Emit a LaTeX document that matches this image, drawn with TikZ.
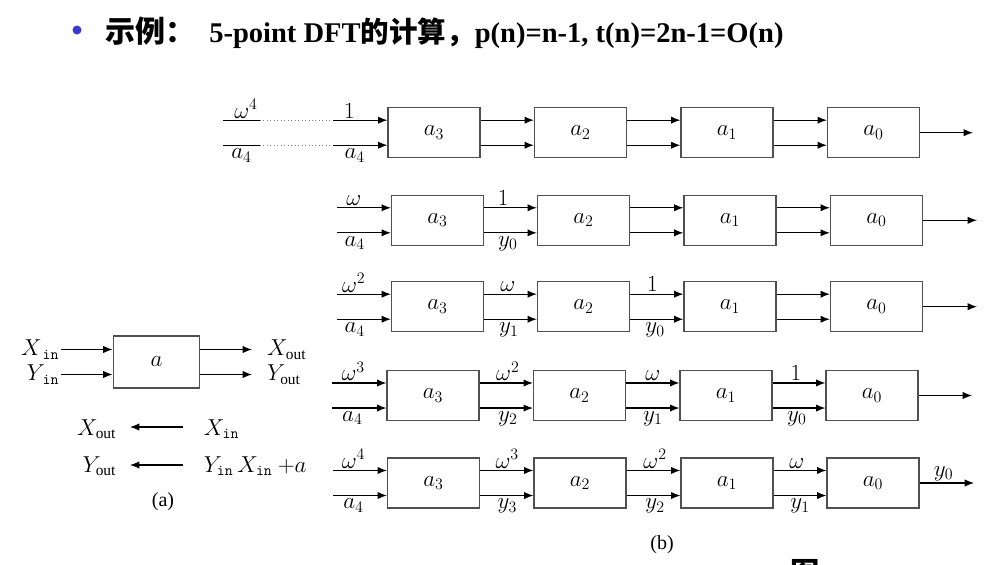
\documentclass[tikz,border=0pt]{standalone}
\usepackage{fontspec}
\setmainfont{Liberation Serif}
\newfontfamily\cjk{Noto Sans CJK SC}
\usetikzlibrary{arrows.meta}
\definecolor{bulletblue}{HTML}{3A3ACC}
\definecolor{boxgray}{HTML}{505050}
\begin{document}
\begin{tikzpicture}[x=0.75pt,y=-0.75pt,
  blk/.style={draw=boxgray, line width=0.9pt, minimum width=69pt, minimum height=37.5pt, inner sep=0pt, font=\fontsize{16.5}{18}\selectfont},
  ablk/.style={draw=boxgray, line width=0.9pt, minimum width=65pt, minimum height=39pt, inner sep=0pt, font=\fontsize{16.5}{18}\selectfont},
  arr/.style={-{Latex[length=7pt,width=5.5pt]}, line width=0.9pt},
  ln/.style={line width=0.9pt},
  dotln/.style={line width=0.6pt, gray, dotted},
  lab/.style={font=\fontsize{16.5}{18}\selectfont, inner sep=1.2pt},
  labb/.style={font=\fontsize{16.5}{18}\selectfont, inner sep=2.2pt},
  captext/.style={font=\fontsize{15}{17}\selectfont, inner sep=0pt}]
\useasboundingbox (0,0) rectangle (999,564);
\clip (0,0) rectangle (999,564);

% ---------- title ----------
\fill[bulletblue] (77,30) circle (4.5);
\node[anchor=west, inner sep=0pt, font=\fontsize{22.5}{24}\selectfont\cjk\bfseries] (t1) at (105,31) {示例：};
\node[anchor=west, inner sep=0pt, font=\fontsize{21.4}{24}\selectfont\bfseries] (t2) at (209,33)
  {5-point DFT{\cjk 的计算，}p(n)=n-1, t(n)=2n-1=O(n)};

% ---------- (a) ----------
\node[ablk] (abox) at (156.5,362) {$a$};
\coordinate (ait) at (61,349.5);
\coordinate (aib) at (61,374.5);
\coordinate (aot) at (252,349.5);
\coordinate (aob) at (252,374.5);
\draw[arr] (ait) -- (ait -| abox.west);
\draw[arr] (aib) -- (aib -| abox.west);
\draw[arr] (aot -| abox.east) -- (aot);
\draw[arr] (aob -| abox.east) -- (aob);
\node[lab, anchor=east] (xinl) at (ait) {$X_{\,\mathtt{in}}$};
\node[lab, anchor=east] (yinl) at (aib) {$Y_{\,\mathtt{in}}$};
\node[lab, anchor=west, xshift=10pt] (xoutl) at (aot) {$X_{\mathrm{out}}$};
\node[lab, anchor=west, xshift=10pt] (youtl) at (aob) {$Y_{\mathrm{out}}$};

\coordinate (e1r) at (183,427);
\coordinate (e1l) at (130,427);
\coordinate (e2r) at (183,465);
\coordinate (e2l) at (130,465);
\draw[arr] (e1r) -- (e1l);
\draw[arr] (e2r) -- (e2l);
\node[lab, anchor=east] (xo2) at (118,429) {$X_{\mathrm{out}}$};
\node[lab, anchor=west] (xi2) at (202,429) {$X_{\mathtt{in}}$};
\node[lab, anchor=east] (yo2) at (118,466) {$Y_{\mathrm{out}}$};
\node[lab, anchor=west] (yi2) at (202,466) {$Y_{\mathtt{in}}\,X_{\mathtt{in}}\ {+}a$};
\node[captext] (capa) at (163,502) {(a)};

% ---------- (b) row 1 ----------
\node[blk] (r1b1) at (434,132.7) {$a_3$};
\node[blk] (r1b2) at (580.5,132.7) {$a_2$};
\node[blk] (r1b3) at (727,132.7) {$a_1$};
\node[blk] (r1b4) at (873.5,132.7) {$a_0$};
\coordinate (r1it) at (223,120.2);
\coordinate (r1ib) at (223,145.2);
\coordinate (r1dt1) at (260,120.2);
\coordinate (r1db1) at (260,145.2);
\coordinate (r1dt2) at (333,120.2);
\coordinate (r1db2) at (333,145.2);
\coordinate (r1out) at (973,132.7);
\draw[ln] (r1it) -- node[lab,above,pos=0.62]{$\omega^4$} (r1dt1);
\draw[ln] (r1ib) -- node[labb,below,pos=0.5]{$a_4$} (r1db1);
\draw[dotln] (r1dt1) -- (r1dt2);
\draw[dotln] (r1db1) -- (r1db2);
\draw[arr] (r1dt2) -- node[lab,above,pos=0.3]{$1$} (r1dt2 -| r1b1.west);
\draw[arr] (r1db2) -- node[labb,below,pos=0.4]{$a_4$} (r1db2 -| r1b1.west);
\draw[arr] ([yshift=9.4pt]r1b1.east) -- ([yshift=9.4pt]r1b2.west);
\draw[arr] ([yshift=-9.4pt]r1b1.east) -- ([yshift=-9.4pt]r1b2.west);
\draw[arr] ([yshift=9.4pt]r1b2.east) -- ([yshift=9.4pt]r1b3.west);
\draw[arr] ([yshift=-9.4pt]r1b2.east) -- ([yshift=-9.4pt]r1b3.west);
\draw[arr] ([yshift=9.4pt]r1b3.east) -- ([yshift=9.4pt]r1b4.west);
\draw[arr] ([yshift=-9.4pt]r1b3.east) -- ([yshift=-9.4pt]r1b4.west);
\draw[arr] (r1b4.east) -- (r1out);

% ---------- row 2 ----------
\node[blk] (r2b1) at (437.5,220.3) {$a_3$};
\node[blk] (r2b2) at (583.5,220.3) {$a_2$};
\node[blk] (r2b3) at (730,220.3) {$a_1$};
\node[blk] (r2b4) at (876.5,220.3) {$a_0$};
\coordinate (r2it) at (337,207.8);
\coordinate (r2ib) at (337,232.8);
\coordinate (r2out) at (977,220.3);
\draw[arr] (r2it) -- node[lab,above,pos=0.31]{$\omega$} (r2it -| r2b1.west);
\draw[arr] (r2ib) -- node[labb,below,pos=0.33]{$a_4$} (r2ib -| r2b1.west);
\draw[arr] ([yshift=9.4pt]r2b1.east) -- node[lab,above,pos=0.36]{$1$} ([yshift=9.4pt]r2b2.west);
\draw[arr] ([yshift=-9.4pt]r2b1.east) -- node[labb,below,pos=0.45]{$y_0$} ([yshift=-9.4pt]r2b2.west);
\draw[arr] ([yshift=9.4pt]r2b2.east) -- ([yshift=9.4pt]r2b3.west);
\draw[arr] ([yshift=-9.4pt]r2b2.east) -- ([yshift=-9.4pt]r2b3.west);
\draw[arr] ([yshift=9.4pt]r2b3.east) -- ([yshift=9.4pt]r2b4.west);
\draw[arr] ([yshift=-9.4pt]r2b3.east) -- ([yshift=-9.4pt]r2b4.west);
\draw[arr] (r2b4.east) -- (r2out);

% ---------- row 3 ----------
\node[blk] (r3b1) at (437.5,306.7) {$a_3$};
\node[blk] (r3b2) at (583.5,306.7) {$a_2$};
\node[blk] (r3b3) at (730,306.7) {$a_1$};
\node[blk] (r3b4) at (876.5,306.7) {$a_0$};
\coordinate (r3it) at (337,294.2);
\coordinate (r3ib) at (337,319.2);
\coordinate (r3out) at (977,306.7);
\draw[arr] (r3it) -- node[lab,above,pos=0.31]{$\omega^2$} (r3it -| r3b1.west);
\draw[arr] (r3ib) -- node[labb,below,pos=0.33]{$a_4$} (r3ib -| r3b1.west);
\draw[arr] ([yshift=9.4pt]r3b1.east) -- node[lab,above,pos=0.45]{$\omega$} ([yshift=9.4pt]r3b2.west);
\draw[arr] ([yshift=-9.4pt]r3b1.east) -- node[labb,below,pos=0.47]{$y_1$} ([yshift=-9.4pt]r3b2.west);
\draw[arr] ([yshift=9.4pt]r3b2.east) -- node[lab,above,pos=0.42]{$1$} ([yshift=9.4pt]r3b3.west);
\draw[arr] ([yshift=-9.4pt]r3b2.east) -- node[labb,below,pos=0.47]{$y_0$} ([yshift=-9.4pt]r3b3.west);
\draw[arr] ([yshift=9.4pt]r3b3.east) -- ([yshift=9.4pt]r3b4.west);
\draw[arr] ([yshift=-9.4pt]r3b3.east) -- ([yshift=-9.4pt]r3b4.west);
\draw[arr] (r3b4.east) -- (r3out);

% ---------- row 4 ----------
\node[blk] (r4b1) at (433,395.5) {$a_3$};
\node[blk] (r4b2) at (579.5,395.5) {$a_2$};
\node[blk] (r4b3) at (726,395.5) {$a_1$};
\node[blk] (r4b4) at (872,395.5) {$a_0$};
\coordinate (r4it) at (332,383);
\coordinate (r4ib) at (332,408);
\coordinate (r4out) at (972,395.5);
\draw[arr] (r4it) -- node[lab,above,pos=0.39]{$\omega^3$} (r4it -| r4b1.west);
\draw[arr] (r4ib) -- node[labb,below,pos=0.375]{$a_4$} (r4ib -| r4b1.west);
\draw[arr] ([yshift=9.4pt]r4b1.east) -- node[lab,above,pos=0.53]{$\omega^2$} ([yshift=9.4pt]r4b2.west);
\draw[arr] ([yshift=-9.4pt]r4b1.east) -- node[labb,below,pos=0.53]{$y_2$} ([yshift=-9.4pt]r4b2.west);
\draw[arr] ([yshift=9.4pt]r4b2.east) -- node[lab,above,pos=0.5]{$\omega$} ([yshift=9.4pt]r4b3.west);
\draw[arr] ([yshift=-9.4pt]r4b2.east) -- node[labb,below,pos=0.5]{$y_1$} ([yshift=-9.4pt]r4b3.west);
\draw[arr] ([yshift=9.4pt]r4b3.east) -- node[lab,above,pos=0.44]{$1$} ([yshift=9.4pt]r4b4.west);
\draw[arr] ([yshift=-9.4pt]r4b3.east) -- node[labb,below,pos=0.46]{$y_0$} ([yshift=-9.4pt]r4b4.west);
\draw[arr] (r4b4.east) -- (r4out);

% ---------- row 5 ----------
\node[blk] (r5b1) at (433.5,483) {$a_3$};
\node[blk] (r5b2) at (580,483) {$a_2$};
\node[blk] (r5b3) at (727,483) {$a_1$};
\node[blk] (r5b4) at (873,483) {$a_0$};
\coordinate (r5it) at (333,470.5);
\coordinate (r5ib) at (333,495.5);
\coordinate (r5out) at (974,483);
\draw[arr] (r5it) -- node[lab,above,pos=0.38]{$\omega^4$} (r5it -| r5b1.west);
\draw[arr] (r5ib) -- node[labb,below,pos=0.38]{$a_4$} (r5ib -| r5b1.west);
\draw[arr] ([yshift=9.4pt]r5b1.east) -- node[lab,above,pos=0.51]{$\omega^3$} ([yshift=9.4pt]r5b2.west);
\draw[arr] ([yshift=-9.4pt]r5b1.east) -- node[labb,below,pos=0.51]{$y_3$} ([yshift=-9.4pt]r5b2.west);
\draw[arr] ([yshift=9.4pt]r5b2.east) -- node[lab,above,pos=0.53]{$\omega^2$} ([yshift=9.4pt]r5b3.west);
\draw[arr] ([yshift=-9.4pt]r5b2.east) -- node[labb,below,pos=0.53]{$y_2$} ([yshift=-9.4pt]r5b3.west);
\draw[arr] ([yshift=9.4pt]r5b3.east) -- node[lab,above,pos=0.44]{$\omega$} ([yshift=9.4pt]r5b4.west);
\draw[arr] ([yshift=-9.4pt]r5b3.east) -- node[labb,below,pos=0.5]{$y_1$} ([yshift=-9.4pt]r5b4.west);
\draw[arr] (r5b4.east) -- node[lab,above,pos=0.44]{$y_0$} (r5out);

\node[captext] (capb) at (662,545) {(b)};
\node[anchor=north west, inner sep=0pt, font=\fontsize{22}{24}\selectfont\cjk\bfseries] (fig) at (790,559.5) {图};
\end{tikzpicture}
\end{document}
